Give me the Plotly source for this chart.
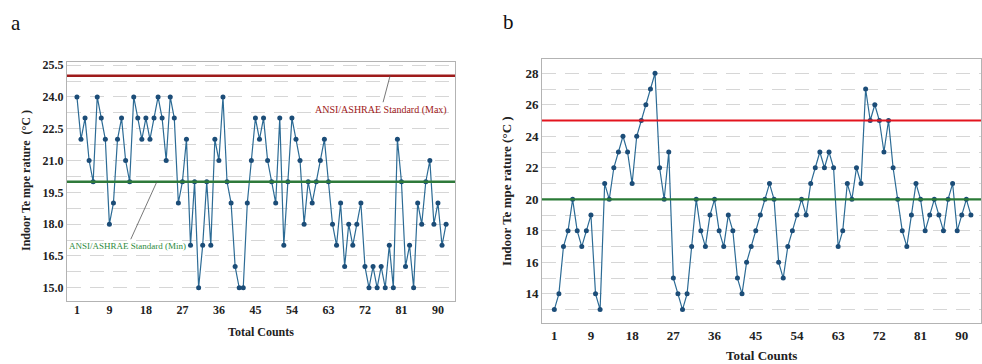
import plotly.graph_objects as go

# ---------------- data ----------------
counts_a = list(range(1, 93))
temp_a = [24, 22, 23, 21, 20, 24, 23, 22, 18, 19,
          22, 23, 21, 20, 24, 23, 22, 23, 22, 23,
          24, 23, 21, 24, 23, 19, 20, 22, 17, 20,
          15, 17, 20, 17, 22, 21, 24, 20, 19, 16,
          15, 15, 19, 21, 23, 22, 23,
          21, 20, 19, 23, 17, 20, 23, 22, 21, 18,
          20, 19, 20, 21, 22, 20, 18, 17, 19, 16,
          18, 17, 18, 19, 16, 15, 16, 15, 16, 15,
          17, 15, 22, 20, 16, 17, 15, 19, 18, 20,
          21, 18, 19, 17, 18]

counts_b = list(range(1, 93))
temp_b = [13, 14, 17, 18, 20, 18, 17, 18, 19, 14,
          13, 21, 20, 22, 23, 24, 23, 21, 24, 25,
          26, 27, 28, 22, 20, 23, 15, 14, 13, 14,
          17, 20, 18, 17, 19, 20, 18, 17, 19, 18,
          15, 14, 16, 17, 18, 19, 20, 21, 20, 16,
          15, 17, 18, 19, 20, 19, 21, 22, 23, 22,
          23, 22, 17, 18, 21, 20, 22, 21, 27, 25,
          26, 25, 23, 25, 22, 20, 18, 17, 19, 21,
          20, 18, 19, 20, 19, 18, 20, 21, 18, 19,
          20, 19]

std_max = 25
std_min = 20

x_ticks = [1, 9, 18, 27, 36, 45, 54, 63, 72, 81, 90]
y_ticks_a = [15.0, 16.5, 18.0, 19.5, 21.0, 22.5, 24.0, 25.5]
y_ticks_b = [14, 16, 18, 20, 22, 24, 26, 28]

label_max = "ANSI/ASHRAE Standard (Max)"
label_min = "ANSI/ASHRAE Standard (Min)"

# ---------------- figure ----------------
W, H = 982, 364
SERIF = "Liberation Serif, Times New Roman, serif"
LINE_C = "#2c6b95"
MARK_C = "#1c4d78"
GRID_C = "#d6d6d6"
FRAME_C = "#b3b3b3"

fig = go.Figure()

fig.add_trace(go.Scatter(x=counts_a, y=temp_a, mode="lines+markers",
                         line=dict(color=LINE_C, width=1.2),
                         marker=dict(color=MARK_C, size=5),
                         xaxis="x", yaxis="y", showlegend=False))
fig.add_trace(go.Scatter(x=counts_b, y=temp_b, mode="lines+markers",
                         line=dict(color=LINE_C, width=1.2),
                         marker=dict(color=MARK_C, size=5),
                         xaxis="x2", yaxis="y2", showlegend=False))

def px_x(p):
    return p / W

def px_y(p):
    return 1 - p / H

tickfont_a = dict(family=SERIF, size=12, color="#222", weight="bold")
tickfont_b = dict(family=SERIF, size=13, color="#222", weight="bold")

common_axis = dict(showline=True, linecolor=FRAME_C, linewidth=1, mirror=True,
                   ticks="", zeroline=False)

fig.update_layout(
    width=W, height=H,
    margin=dict(l=0, r=0, t=0, b=0),
    paper_bgcolor="white", plot_bgcolor="white",
    xaxis=dict(domain=[px_x(67), px_x(455)], range=[-1.45, 94.2],
               tickvals=x_ticks, showgrid=False, tickfont=tickfont_a,
               ticklabelstandoff=-2, anchor="y", **common_axis),
    yaxis=dict(domain=[px_y(300), px_y(59)], range=[14.39, 25.63],
               tickvals=y_ticks_a, tickformat=".1f", showgrid=True,
               gridcolor=GRID_C, griddash="14px,9px", gridwidth=1,
               minor=dict(dtick=0.75, tick0=15, showgrid=True, gridcolor=GRID_C,
                          griddash="14px,9px", gridwidth=1),
               tickfont=tickfont_a, anchor="x", **common_axis),
    xaxis2=dict(domain=[px_x(542), px_x(981)], range=[-1.69, 94.2],
                tickvals=x_ticks, showgrid=False, tickfont=tickfont_b,
                ticklabelstandoff=0, anchor="y2", **common_axis),
    yaxis2=dict(domain=[px_y(323), px_y(56)], range=[12.12, 28.88],
                tickvals=y_ticks_b, showgrid=True,
                gridcolor=GRID_C, griddash="14px,9px", gridwidth=1,
                minor=dict(dtick=1, tick0=12, showgrid=True, gridcolor=GRID_C,
                           griddash="14px,9px", gridwidth=1),
                tickfont=tickfont_b, anchor="x2", **common_axis),
)

# standard lines
fig.add_shape(type="line", xref="x domain", yref="y", x0=0, x1=1, y0=std_max, y1=std_max,
              line=dict(color="#9e1b1b", width=2.5))
fig.add_shape(type="line", xref="x domain", yref="y", x0=0, x1=1, y0=std_min, y1=std_min,
              line=dict(color="#2f7a3b", width=2.5))
fig.add_shape(type="line", xref="x2 domain", yref="y2", x0=0, x1=1, y0=std_max, y1=std_max,
              line=dict(color="#e3141e", width=2.2))
fig.add_shape(type="line", xref="x2 domain", yref="y2", x0=0, x1=1, y0=std_min, y1=std_min,
              line=dict(color="#2a7a36", width=2.2))

# callouts
fig.add_annotation(x=78.2, y=std_max, xref="x", yref="y", text=label_max,
                   showarrow=True, arrowhead=0, arrowwidth=0.8, arrowcolor="#555",
                   ax=-9, ay=34, font=dict(family=SERIF, size=10, color="#a01818"))
fig.add_annotation(x=20.7, y=std_min, xref="x", yref="y", text=label_min,
                   showarrow=True, arrowhead=0, arrowwidth=0.8, arrowcolor="#555",
                   ax=-29, ay=64, font=dict(family=SERIF, size=9, color="#2e8b3e"))

def label(x, y, text, size, bold=True, angle=0, color="#222"):
    fig.add_annotation(x=px_x(x), y=px_y(y), xref="paper", yref="paper",
                       xanchor="center", yanchor="middle",
                       text=text, showarrow=False, textangle=angle,
                       font=dict(family=SERIF, size=size, color=color,
                                 weight="bold" if bold else "normal"))

# axis titles
label(261, 332, "Total Counts", 12)
label(761, 355, "Total Counts", 13)
label(26, 179, "Indoor Te mpe rature  (°C )", 12, angle=-90)
label(507, 189, "Indoor Te mpe rature (°C )", 13, angle=-90)

# panel letters
label(16, 19, "a", 21, bold=False, color="#111")
label(508, 18, "b", 21, bold=False, color="#111")

fig.write_html("out.html")
